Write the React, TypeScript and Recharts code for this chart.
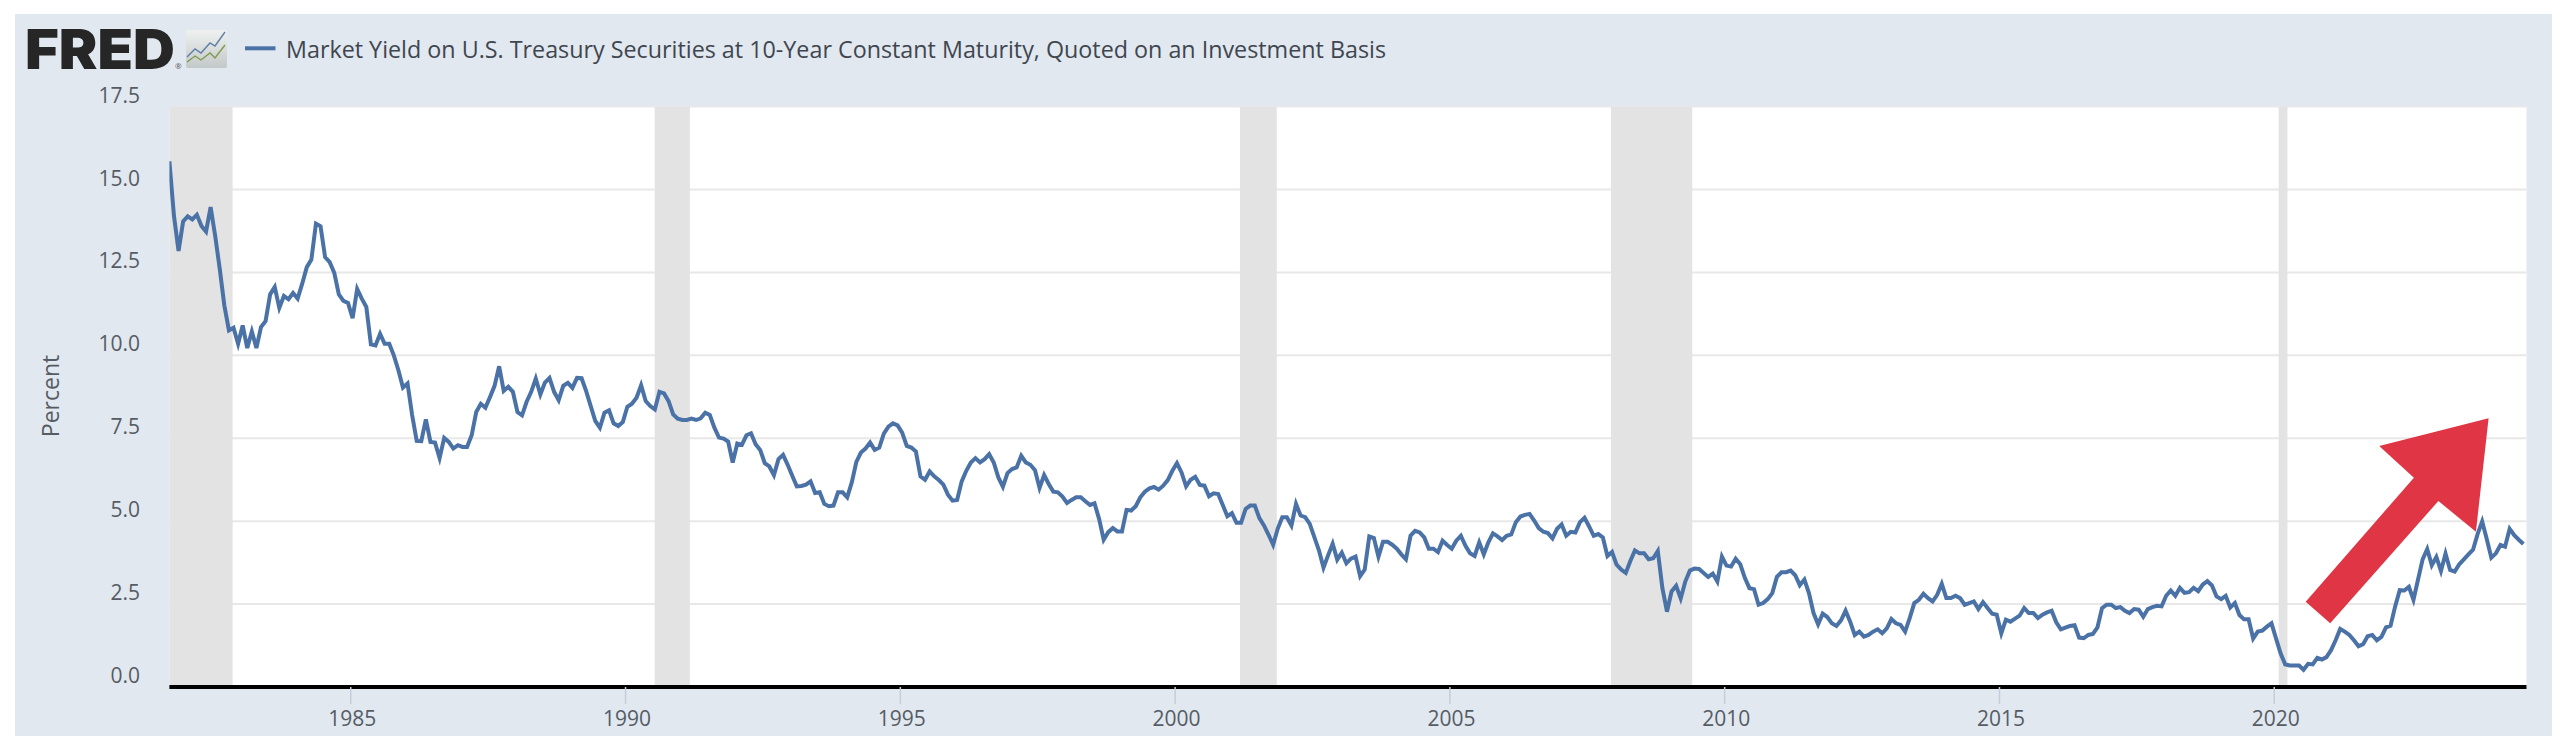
import { LineChart, Line, XAxis, YAxis, CartesianGrid, ReferenceArea } from 'recharts'

const seriesName = 'Market Yield on U.S. Treasury Securities at 10-Year Constant Maturity, Quoted on an Investment Basis'
const firstMonth = 1981.7
const xTicks = [1985, 1990, 1995, 2000, 2005, 2010, 2015, 2020]
const yTicks = [0, 2.5, 5, 7.5, 10, 12.5, 15, 17.5]
const recessionStarts = [1981.7, 1990.53, 2001.18, 2007.93, 2020.08]
const recessionEnds = [1982.85, 1991.17, 2001.85, 2009.41, 2020.24]

// monthly values, Sep 1981 onwards
const yields = [
  15.85, 14.2, 13.15, 14.04, 14.19, 14.1, 14.24, 13.9, 13.73, 14.47,
  13.6, 12.6, 11.5, 10.75, 10.83, 10.35, 10.9, 10.22, 10.72, 10.22,
  10.85, 11.03, 11.84, 12.06, 11.43, 11.79, 11.69, 11.88, 11.71, 12.16,
  12.66, 12.89, 13.97, 13.89, 12.96, 12.81, 12.49, 11.84, 11.64, 11.58,
  11.12, 12.0, 11.71, 11.46, 10.33, 10.3, 10.65, 10.35, 10.35, 10.0,
  9.55, 9.03, 9.15, 8.2, 7.42, 7.41, 8.07, 7.39, 7.37, 6.9,
  7.51, 7.39, 7.19, 7.29, 7.24, 7.24, 7.59, 8.29, 8.54, 8.42,
  8.74, 9.08, 9.67, 8.93, 9.05, 8.9, 8.29, 8.19, 8.6, 8.9,
  9.3, 8.82, 9.18, 9.32, 8.9, 8.65, 9.08, 9.17, 9.02, 9.32,
  9.31, 8.92, 8.47, 8.02, 7.82, 8.27, 8.34, 7.95, 7.87, 7.99,
  8.45, 8.54, 8.72, 9.1, 8.62, 8.47, 8.37, 8.9, 8.85, 8.62,
  8.22, 8.09, 8.05, 8.05, 8.09, 8.05, 8.1, 8.27, 8.2, 7.82,
  7.52, 7.49, 7.4, 6.77, 7.34, 7.3, 7.59, 7.65, 7.32, 7.15,
  6.75, 6.65, 6.39, 6.87, 7.0, 6.7, 6.37, 6.05, 6.06, 6.1,
  6.2, 5.85, 5.87, 5.52, 5.45, 5.47, 5.87, 5.87, 5.72, 6.17,
  6.79, 7.07, 7.19, 7.37, 7.15, 7.22, 7.64, 7.85, 7.95, 7.89,
  7.67, 7.27, 7.22, 7.1, 6.35, 6.25, 6.5, 6.35, 6.24, 6.1,
  5.8, 5.62, 5.64, 6.2, 6.52, 6.77, 6.9, 6.77, 6.87, 7.02,
  6.77, 6.32, 6.04, 6.45, 6.57, 6.62, 6.97, 6.77, 6.7, 6.54,
  6.0, 6.39, 6.12, 5.89, 5.87, 5.74, 5.55, 5.64, 5.72, 5.72,
  5.6, 5.49, 5.54, 5.07, 4.44, 4.67, 4.79, 4.69, 4.69, 5.34,
  5.32, 5.45, 5.72, 5.89, 5.99, 6.03, 5.95, 6.07, 6.24, 6.52,
  6.75, 6.47, 6.05, 6.25, 6.34, 6.09, 6.07, 5.75, 5.84, 5.82,
  5.49, 5.15, 5.24, 4.95, 4.95, 5.37, 5.47, 5.47, 5.09, 4.87,
  4.59, 4.29, 4.77, 5.12, 5.12, 4.87, 5.52, 5.17, 5.12, 4.92,
  4.52, 4.12, 3.6, 3.97, 4.32, 3.84, 4.05, 3.73, 3.87, 3.93,
  3.34, 3.54, 4.54, 4.49, 3.93, 4.38, 4.38, 4.29, 4.17, 4.0,
  3.85, 4.56, 4.71, 4.66, 4.51, 4.17, 4.17, 4.07, 4.41, 4.28,
  4.17, 4.41, 4.56, 4.26, 4.03, 3.95, 4.36, 4.0, 4.36, 4.63,
  4.54, 4.43, 4.56, 4.6, 4.97, 5.14, 5.19, 5.22, 5.02, 4.79,
  4.68, 4.64, 4.48, 4.77, 4.9, 4.56, 4.68, 4.66, 4.97, 5.1,
  4.84, 4.56, 4.61, 4.51, 3.95, 4.07, 3.69, 3.54, 3.44, 3.8,
  4.12, 4.03, 4.03, 3.85, 3.88, 4.1, 2.98, 2.27, 2.88, 3.05,
  2.67, 3.18, 3.51, 3.57, 3.56, 3.44, 3.32, 3.42, 3.18, 3.93,
  3.66, 3.63, 3.87, 3.7, 3.29, 2.98, 2.95, 2.48, 2.53, 2.65,
  2.83, 3.32, 3.46, 3.46, 3.51, 3.37, 3.07, 3.24, 2.83, 2.23,
  1.89, 2.21, 2.11, 1.92, 1.84, 2.01, 2.3, 1.97, 1.57, 1.67,
  1.52, 1.57, 1.67, 1.74, 1.62, 1.77, 2.05, 1.92, 1.87, 1.67,
  2.08, 2.53, 2.63, 2.81, 2.68, 2.58, 2.78, 3.11, 2.68, 2.68,
  2.75, 2.68, 2.48, 2.53, 2.58, 2.35, 2.56, 2.38, 2.21, 2.18,
  1.62, 2.03, 1.97, 2.06, 2.15, 2.38, 2.23, 2.23, 2.08, 2.18,
  2.25, 2.3, 1.95, 1.74, 1.79, 1.84, 1.86, 1.49, 1.47, 1.57,
  1.6, 1.8, 2.38, 2.48, 2.48, 2.38, 2.41, 2.3, 2.23, 2.35,
  2.33, 2.12, 2.35, 2.41, 2.45, 2.43, 2.75, 2.91, 2.75, 2.99,
  2.84, 2.86, 2.99, 2.89, 3.09, 3.19, 3.06, 2.73, 2.65, 2.75,
  2.4, 2.53, 2.17, 2.04, 2.04, 1.46, 1.67, 1.7, 1.82, 1.92,
  1.46, 1.01, 0.68, 0.65, 0.65, 0.65, 0.52, 0.7, 0.68, 0.88,
  0.83, 0.9, 1.11, 1.41, 1.75, 1.67, 1.57, 1.41, 1.23, 1.29,
  1.53, 1.57, 1.41, 1.51, 1.8, 1.85, 2.43, 2.92, 2.91, 3.02,
  2.63, 3.24, 3.85, 4.16, 3.67, 3.92, 3.5, 4.02, 3.53, 3.48,
  3.7, 3.85, 4.0, 4.14, 4.61, 4.99, 4.46, 3.9, 4.03, 4.28,
  4.23, 4.77, 4.58, 4.44, 4.31,
]

const data = yields.map((value, i) => ({ year: firstMonth + i / 12, value }))

const font = '"Open Sans", sans-serif'
const tickColor = '#565c64'

const YTick = ({ y, payload }: any) => (
  <text x={125} y={y - 4} textAnchor="end" fontFamily={font} fontSize={21} fill={tickColor}>
    {payload.value.toFixed(1)}
  </text>
)

const XTick = ({ x, y, payload }: any) => (
  <text x={x + 1.5} y={y + 22} textAnchor="middle" fontFamily={font} fontSize={21} fill={tickColor}>
    {payload.value}
  </text>
)

export default function App() {
  return (
    <div style={{ position: 'absolute', left: 0, top: 0, width: 2560, height: 751, background: '#fff', overflow: 'hidden' }}>
      <div style={{ position: 'absolute', left: 15, top: 14 }}>
        <LineChart
          width={2537}
          height={722}
          data={data}
          margin={{ top: 92.6, right: 25.5, bottom: 0, left: 0 }}
          style={{ background: '#e1e8f0' }}
        >
          <CartesianGrid vertical={false} horizontalValues={yTicks} stroke="#e8e8e8" strokeWidth={2} fill="#fff" />
          <XAxis
            type="number"
            dataKey="year"
            domain={[firstMonth, 2024.59]}
            ticks={xTicks}
            height={49}
            tickSize={17}
            tickMargin={0}
            allowDataOverflow
            axisLine={{ stroke: '#000', strokeWidth: 4 }}
            tickLine={{ stroke: '#c5cdd8', strokeWidth: 1.5 }}
            tick={XTick}
          />
          <YAxis
            type="number"
            domain={[0, 17.5]}
            ticks={yTicks}
            width={154.4}
            axisLine={false}
            tickLine={false}
            tick={YTick}
          />
          {recessionStarts.map((start, i) => (
            <ReferenceArea key={start} x1={start} x2={recessionEnds[i]} y1={0} y2={17.5} fill="#e3e3e3" fillOpacity={1} stroke="none" />
          ))}
          <Line
            type="linear"
            dataKey="value"
            stroke="#4a72a6"
            strokeWidth={4}
            dot={false}
            isAnimationActive={false}
          />
        </LineChart>
      </div>
      <svg width={2560} height={751} style={{ position: 'absolute', left: 0, top: 0, pointerEvents: 'none' }}>
        <defs>
          <linearGradient id="icon" x1="0" y1="0" x2="0" y2="1">
            <stop offset="0" stopColor="#eef1f0" />
            <stop offset="1" stopColor="#c3c9c8" />
          </linearGradient>
        </defs>
        <text x={25} y={69} fontFamily="Inter, sans-serif" fontWeight={900} fontSize={55} fill="#262626" textLength={150} lengthAdjust="spacingAndGlyphs">
          FRED
        </text>
        <text x={175} y={69} fontFamily={font} fontSize={8} fill="#555">®</text>
        <rect x={186} y={30} width={41} height={38} rx={2} fill="url(#icon)" />
        <polyline points="187,57 195,49 201,53 210,43 215,46 225,32" fill="none" stroke="#5f7fa8" strokeWidth={1.4} />
        <polyline points="187,62 195,56 201,60 210,53 215,58 225,45" fill="none" stroke="#7f9a4f" strokeWidth={1.4} />
        <line x1={245} y1={48.3} x2={275.5} y2={48.3} stroke="#4a72a6" strokeWidth={4} />
        <text x={286} y={58} fontFamily={font} fontSize={24} fill="#3f464f" textLength={1100} lengthAdjust="spacingAndGlyphs">
          {seriesName}
        </text>
        <text transform="translate(59,396) rotate(-90)" textAnchor="middle" fontFamily={font} fontSize={23} fill={tickColor}>
          Percent
        </text>
        <polygon
          points="2488.6,418.3 2379.2,446 2413.9,477.7 2305.7,601.7 2330.2,623.3 2438.4,501 2475.9,531.7"
          fill="#e03545"
        />
      </svg>
    </div>
  )
}
